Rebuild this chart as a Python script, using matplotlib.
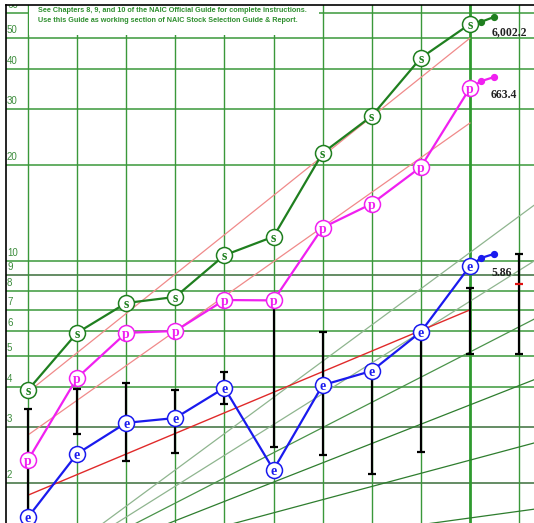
import numpy as np
import matplotlib
matplotlib.use("Agg")
import matplotlib.pyplot as plt
from matplotlib.patches import Rectangle
from matplotlib.ticker import NullLocator

# ---------------- data ----------------
years_idx = list(range(10))              # ten historical years (column index)
proj_idx = [9.23, 9.49]                  # projection dots after last year
sales = [3.92, 5.93, 7.36, 7.69, 10.4, 11.9, 21.8, 28.5, 43.4, 55.5]
sales_proj = [56.4, 58.4]
pretax = [2.36, 4.28, 5.93, 6.01, 7.52, 7.5, 12.7, 15.1, 19.7, 34.9]
pretax_proj = [36.7, 37.8]
eps = [1.56, 2.47, 3.09, 3.20, 3.98, 2.20, 4.06, 4.50, 5.97, 9.62]
eps_proj = [10.2, 10.5]

price_idx = list(range(11))
price_high = [3.42, 3.95, 4.12, 3.92, 4.47, 7.5, 5.97, 4.5, 5.97, 8.2, 10.5]
price_low = [1.56, 2.85, 2.35, 2.49, 3.54, 2.59, 2.45, 2.13, 2.50, 5.09, 5.09]
price_mark = 8.45                          # red tick on projection column

trend_sales = [3.86, 50.1]
trend_pretax = [2.83, 27.1]
trend_eps = [1.83, 7.0]
trend_idx = [0, 9]

growth_rates = [0.05, 0.10, 0.15, 0.20, 0.25, 0.30]
growth_base = 1.0

ytick_vals = [2, 3, 4, 5, 6, 7, 8, 9, 10, 20, 30, 40, 50, 60]
end_labels = ["6,002.2", "663.4", "5.86"]
header = ["See Chapters 8, 9, and 10 of the NAIC Official Guide for complete instructions.",
          "Use this Guide as working section of NAIC Stock Selection Guide & Report."]

# ---------------- figure ----------------
W, H = 534, 523
fig = plt.figure(figsize=(W / 100, H / 100), dpi=100)
fig.patch.set_facecolor("white")
ax = fig.add_axes([6 / W, 0, (W - 6) / W, (H - 5) / H])
ax.set_yscale("log")
ax.set_xlim(-0.448, 10.305)
ax.set_ylim(1.496, 63.7)
ax.set_xticks([])
ax.set_yticks([])
ax.yaxis.set_minor_locator(NullLocator())
for s in ["right", "bottom"]:
    ax.spines[s].set_visible(False)
for s in ["left", "top"]:
    ax.spines[s].set_color("black")
    ax.spines[s].set_linewidth(1.2)

GRID = "#3a983a"
DARK = "#3b6e3b"
# horizontal grid
for v in ytick_vals:
    c = DARK if v in (9, 3, 2) else GRID
    ax.axhline(v, color=c, lw=1.1, zorder=1)
    ax.text(0.0019, v * 10 ** (8 / 318), str(v), transform=ax.get_yaxis_transform(),
            ha="left", va="center", fontsize=7, color="#3c8c3c",
            family="Liberation Sans", zorder=2, clip_on=True)
# vertical grid
for i in range(11):
    ax.axvline(i, color=("#2f9a2f" if i == 9 else GRID), lw=(2.0 if i == 9 else 1.0), zorder=1)

# header box
ax.add_patch(Rectangle((0.03, 51.2), 5.9, 30, facecolor="white", edgecolor="none", zorder=1.5))
fig.text(38 / W, 1 - 10 / H, header[0], fontsize=5.2, color="#2f8f2f",
         family="Liberation Sans", ha="left", va="center", fontweight="bold")
fig.text(38 / W, 1 - 21 / H, header[1], fontsize=5.2, color="#2f8f2f",
         family="Liberation Sans", ha="left", va="center", fontweight="bold")

# growth-rate guide lines
gx = np.array([0.0, 10.305])
for r in growth_rates:
    col = "#8fb58f" if r >= 0.25 else ("#4a934a" if r >= 0.2 else "#2e7d2e")
    ax.plot(gx, growth_base * (1 + r) ** gx, color=col, lw=0.9, zorder=2)

# trend lines
ax.plot(trend_idx, trend_sales, color="#f08a8a", lw=0.9, zorder=3)
ax.plot(trend_idx, trend_pretax, color="#f08a8a", lw=0.9, zorder=3)
ax.plot(trend_idx, trend_eps, color="#e02a2a", lw=1.0, zorder=3)

# price bars
ax.vlines(price_idx, price_low, price_high, color="black", lw=1.6, zorder=4)
ax.plot(price_idx, price_high, "_", color="black", ms=6, mew=1.6, zorder=4)
ax.plot(price_idx, price_low, "_", color="black", ms=6, mew=1.6, zorder=4)
ax.plot([10], [price_mark], "_", color="#e01010", ms=6, mew=1.6, zorder=4.5)

# series
series = [(sales, sales_proj, "#1f7f1f", "s"),
          (pretax, pretax_proj, "#f020f0", "p"),
          (eps, eps_proj, "#1a1aee", "e")]
for vals, proj, col, letter in series:
    ax.plot(years_idx, vals, color=col, lw=1.6, zorder=5)
    ax.plot([years_idx[-1]] + proj_idx, [vals[-1]] + proj, color=col, lw=1.6, zorder=5)
    ax.plot(proj_idx, proj, "o", color=col, ms=4.2, zorder=5)
    ax.plot(years_idx, vals, "o", ms=11.5, mfc="white", mec=col, mew=1.1, zorder=6)
    for x, v in zip(years_idx, vals):
        ax.text(x, v, letter, ha="center", va="center_baseline", fontsize=10,
                color=col, family="Liberation Serif", fontweight="bold", zorder=7)

# end value labels
offsets = [(22, -8), (21, -7), (22, -7)]
for (vals, _, _, _), lab, off in zip(series, end_labels, offsets):
    ax.annotate(lab, (years_idx[-1], vals[-1]), xytext=off, textcoords="offset pixels",
                ha="left", va="center", fontsize=8.5, fontweight="bold",
                family="Liberation Serif", color="#222222", zorder=8)

fig.savefig("out.png", dpi=100)
